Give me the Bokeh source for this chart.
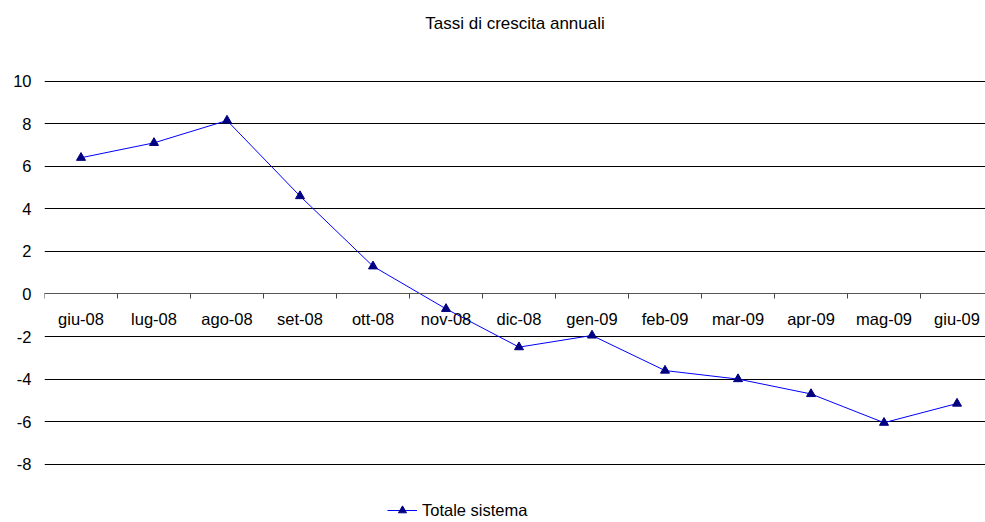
from bokeh.plotting import figure
from bokeh.models import FixedTicker, Range1d, Legend, LegendItem, Title
from bokeh.embed import file_html
from bokeh.resources import INLINE

categories = ["giu-08", "lug-08", "ago-08", "set-08", "ott-08", "nov-08", "dic-08",
              "gen-09", "feb-09", "mar-09", "apr-09", "mag-09", "giu-09"]
values = [6.4, 7.1, 8.15, 4.6, 1.3, -0.7, -2.5, -1.95, -3.6, -4.0, -4.7, -6.05, -5.15]
y_ticks = [-8, -6, -4, -2, 0, 2, 4, 6, 8, 10]
series_name = "Totale sistema"
title_text = "Tassi di crescita annuali"

FONT = "Liberation Sans"
x = list(range(len(categories)))

p = figure(width=985, height=522, output_backend="svg", toolbar_location=None,
           x_range=Range1d(-0.5, 12.39), y_range=Range1d(-10.74, 10.03),
           min_border_left=44, min_border_right=0, min_border_top=80, min_border_bottom=0)
p.outline_line_color = None
p.background_fill_color = "white"

# real title outermost, spacer title added next to the frame
p.title.text = title_text
p.title.align = "center"
p.title.text_font = FONT
p.title.text_font_size = "17px"
p.title.text_font_style = "normal"
p.title.text_color = "#000000"
p.title.standoff = 18
p.add_layout(Title(text=" ", text_font=FONT, text_font_size="17px", standoff=18), "above")

# x axis at y = 0
xa = p.xaxis[0]
xa.fixed_location = 0
xa.ticker = FixedTicker(ticks=x, minor_ticks=[i - 0.5 for i in range(len(categories) + 1)])
xa.major_label_overrides = {i: c for i, c in enumerate(categories)}
xa.major_tick_out = 0
xa.major_tick_in = 0
xa.minor_tick_out = 5
xa.minor_tick_in = 0
xa.minor_tick_line_color = "#444444"
xa.axis_line_color = "#555555"
xa.major_label_standoff = 11
xa.major_label_text_font = FONT
xa.major_label_text_font_size = "16.5px"
xa.major_label_text_color = "#000000"

ya = p.yaxis[0]
ya.ticker = FixedTicker(ticks=y_ticks)
ya.major_label_overrides = {t: str(t) for t in y_ticks}
ya.axis_line_color = None
ya.major_tick_line_color = None
ya.minor_tick_line_color = None
ya.major_label_standoff = 7
ya.major_label_text_font = FONT
ya.major_label_text_font_size = "16.5px"
ya.major_label_text_color = "#000000"

p.xgrid.visible = False
p.ygrid.ticker = FixedTicker(ticks=y_ticks)
p.ygrid.grid_line_color = "#000000"
p.ygrid.grid_line_width = 1

ln = p.line(x, values, line_color="#0000FF", line_width=1)
sc = p.scatter(x, values, marker="triangle", size=9, fill_color="#000080", line_color="#000080")

legend = Legend(items=[LegendItem(label=series_name, renderers=[ln, sc])],
                location=(343, 2), orientation="horizontal",
                border_line_color=None, background_fill_alpha=0,
                label_text_font=FONT, label_text_font_size="16.5px", label_text_color="#000000",
                glyph_width=30, label_standoff=5, padding=0, margin=0)
p.add_layout(legend, "center")

open("out.html", "w").write(file_html(p, INLINE))
